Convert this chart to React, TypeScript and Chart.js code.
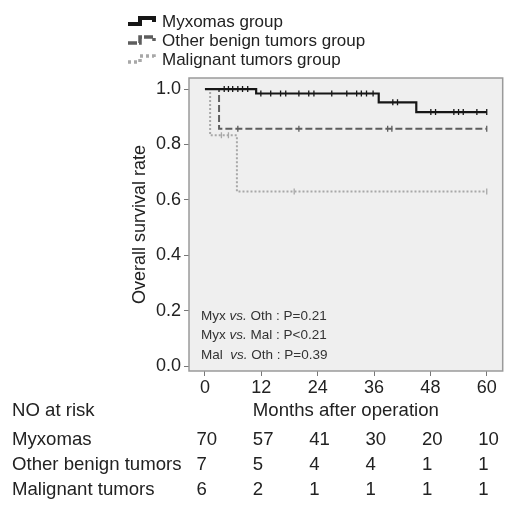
import React, { useEffect, useRef } from "react";
import { Chart, registerables } from "chart.js";
Chart.register(...registerables);

const FONT = "'Liberation Sans', Arial, Helvetica, sans-serif";

const xTicks = [0, 12, 24, 36, 48, 60];
const yTicks = [0, 0.2, 0.4, 0.6, 0.8, 1.0];

const seriesNames = ["Myxomas group", "Other benign tumors group", "Malignant tumors group"];
const riskLabels = ["Myxomas", "Other benign tumors", "Malignant tumors"];
const riskMyx = [70, 57, 41, 30, 20, 10];
const riskOth = [7, 5, 4, 4, 1, 1];
const riskMal = [6, 2, 1, 1, 1, 1];
const pTexts = [
  ["Myx ", "vs.", " Oth : P=0.21"],
  ["Myx ", "vs.", " Mal : P<0.21"],
  ["Mal  ", "vs.", " Oth : P=0.39"],
];

// Kaplan-Meier step points (time, survival after the step)
const myxTimes = [0, 10.9, 37, 45, 60];
const myxSurv = [1.0, 0.984, 0.952, 0.917, 0.917];
const myxCensor = [4.1, 5, 5.9, 7, 8, 9.1, 11.9, 14, 16.1, 17.2, 20, 22.1, 23.2, 27, 30.2, 32.3, 33.3, 34.4, 35.8, 40, 41, 48.1, 49.1, 53, 54, 55, 57.9, 60];

const othTimes = [0, 3.0, 60];
const othSurv = [1.0, 0.857, 0.857];
const othCensor = [7, 20, 38.9, 39.8, 60];

const malTimes = [0, 1.1, 6.8, 60];
const malSurv = [1.0, 0.833, 0.63, 0.63];
const malCensor = [3.5, 5, 19, 60];

const colors = ["#161616", "#5e5e5e", "#a8a8a8"];
const dashes: number[][] = [[], [7, 3], [2, 2]];

function survAt(times: number[], surv: number[], t: number) {
  let s = surv[0];
  for (let i = 0; i < times.length; i++) if (times[i] <= t) s = surv[i];
  return s;
}

export default function App() {
  const ref = useRef<HTMLCanvasElement>(null);
  useEffect(() => {
    const canvas = ref.current!;
    const curves = [
      [myxTimes, myxSurv, myxCensor],
      [othTimes, othSurv, othCensor],
      [malTimes, malSurv, malCensor],
    ];
    const datasets: any[] = [];
    curves.forEach((c, i) => {
      const [t, s, cen] = c;
      datasets.push({
        type: "line",
        data: t.map((x, k) => ({ x, y: s[k] })),
        borderColor: colors[i],
        borderWidth: i === 0 ? 2.2 : 2,
        borderDash: dashes[i],
        stepped: true,
        pointRadius: 0,
        fill: false,
        order: i,
      });
      datasets.push({
        type: "scatter",
        data: cen.map((x) => ({ x, y: survAt(t, s, x) })),
        pointStyle: "line",
        rotation: 90,
        radius: 3,
        borderColor: colors[i],
        backgroundColor: colors[i],
        borderWidth: 1.3,
        order: i,
      });
    });

    const plugin = {
      id: "kmDecor",
      beforeDraw(chart: any) {
        const { ctx, chartArea: a } = chart;
        ctx.save();
        ctx.fillStyle = "#efefef";
        ctx.fillRect(a.left, a.top, a.right - a.left, a.bottom - a.top);
        ctx.restore();
      },
      afterDraw(chart: any) {
        const { ctx, chartArea: a } = chart;
        const xs = chart.scales.x;
        ctx.save();
        // panel border
        ctx.strokeStyle = "#9a9a9a";
        ctx.lineWidth = 1.5;
        ctx.strokeRect(a.left, a.top, a.right - a.left, a.bottom - a.top);

        // legend
        const ly = [27, 46, 65];
        seriesNames.forEach((n, i) => {
          const y = ly[i] - 6;
          ctx.strokeStyle = colors[i];
          ctx.lineWidth = i === 0 ? 4 : 3.5;
          ctx.setLineDash(i === 0 ? [] : i === 1 ? [9, 2] : [3, 3]);
          ctx.beginPath();
          ctx.moveTo(128, y + 3);
          ctx.lineTo(140, y + 3);
          ctx.lineTo(140, y - 3);
          ctx.lineTo(154, y - 3);
          ctx.lineTo(154, y + 1);
          ctx.stroke();
          ctx.setLineDash([]);
          ctx.fillStyle = "#222";
          ctx.font = `17px ${FONT}`;
          ctx.textAlign = "left";
          ctx.textBaseline = "alphabetic";
          ctx.fillText(n, 162, ly[i]);
        });

        // y title
        ctx.save();
        ctx.translate(145, (a.top + a.bottom) / 2);
        ctx.rotate(-Math.PI / 2);
        ctx.font = `18px ${FONT}`;
        ctx.textAlign = "center";
        ctx.textBaseline = "alphabetic";
        ctx.fillStyle = "#222";
        ctx.fillText("Overall survival rate", 0, 0);
        ctx.restore();

        // p values
        const pb = [320, 339, 359];
        pTexts.forEach((parts, i) => {
          let x = 201;
          parts.forEach((p, k) => {
            ctx.font = `${k === 1 ? "italic " : ""}13.5px ${FONT}`;
            ctx.fillStyle = "#333";
            ctx.textAlign = "left";
            ctx.fillText(p, x, pb[i]);
            x += ctx.measureText(p).width;
          });
        });

        // risk table
        ctx.font = `18.6px ${FONT}`;
        ctx.fillStyle = "#222";
        ctx.textAlign = "left";
        ctx.fillText("NO at risk", 12, 416);
        ctx.textAlign = "center";
        ctx.fillText("Months after operation", (a.left + a.right) / 2, 416);
        const rows = [riskMyx, riskOth, riskMal];
        const rb = [445, 470, 495];
        rows.forEach((r, i) => {
          ctx.textAlign = "left";
          ctx.fillText(riskLabels[i], 12, rb[i]);
          r.forEach((v, k) => {
            const px = xs.getPixelForValue(xTicks[k]);
            ctx.fillText(String(v), px - 8.5, rb[i]);
          });
        });
        ctx.restore();
      },
    };

    const chart = new Chart(canvas, {
      type: "line",
      data: { datasets },
      options: {
        animation: false,
        responsive: false,
        devicePixelRatio: 1,
        layout: { padding: { left: 0, top: 78, right: 3, bottom: 0 } },
        plugins: { legend: { display: false }, tooltip: { enabled: false } },
        scales: {
          x: {
            type: "linear",
            min: -3.4,
            max: 63.4,
            afterBuildTicks: (s: any) => { s.ticks = xTicks.map((v) => ({ value: v })); },
            afterFit: (s: any) => { s.height = 138; },
            ticks: { font: { size: 18, family: FONT }, color: "#222", padding: 1, maxRotation: 0 },
            grid: { drawOnChartArea: false, tickLength: 5, color: "#777" },
            border: { display: false },
          },
          y: {
            type: "linear",
            min: -0.018,
            max: 1.04,
            afterBuildTicks: (s: any) => { s.ticks = yTicks.map((v) => ({ value: v })); },
            afterFit: (s: any) => { s.width = 189; },
            ticks: { font: { size: 18, family: FONT }, color: "#222", padding: 3, callback: (v: any) => Number(v).toFixed(1) },
            grid: { drawOnChartArea: false, tickLength: 5, color: "#777" },
            border: { display: false },
          },
        },
      },
      plugins: [plugin],
    } as any);
    return () => chart.destroy();
  }, []);
  return (
    <canvas
      ref={ref}
      width={508}
      height={509}
      style={{ position: "absolute", left: 0, top: 0, width: 508, height: 509 }}
    />
  );
}
